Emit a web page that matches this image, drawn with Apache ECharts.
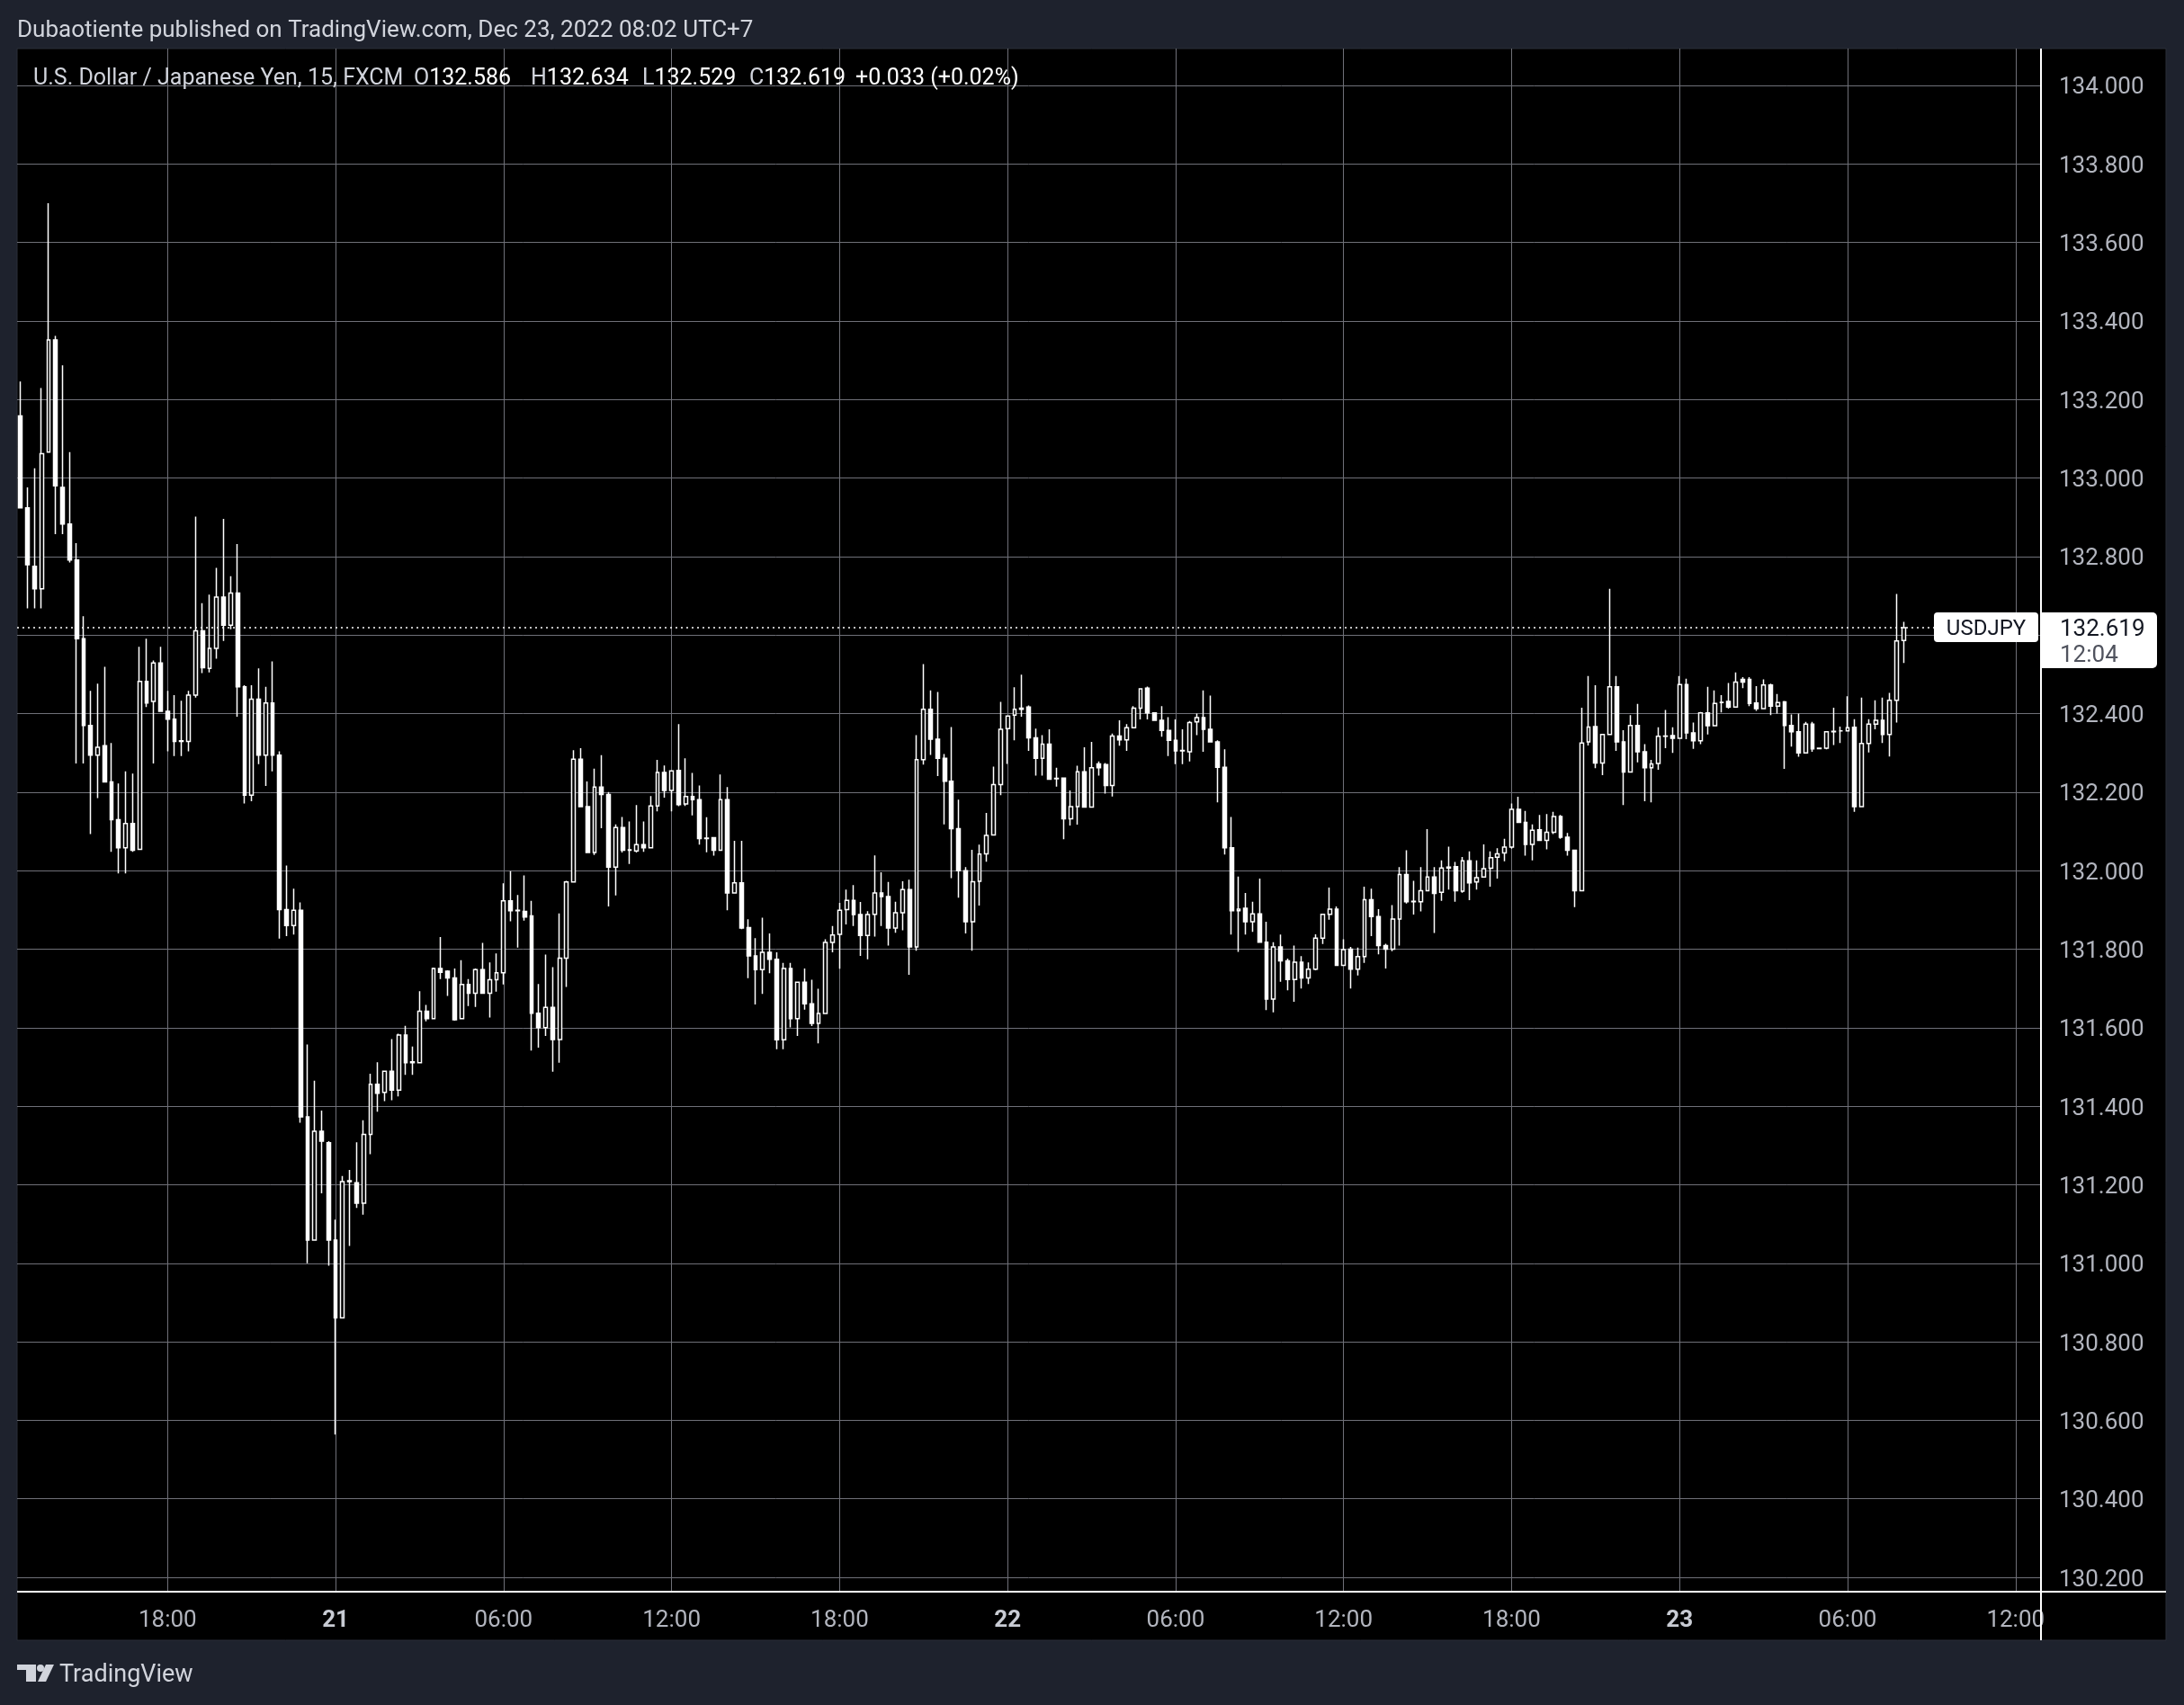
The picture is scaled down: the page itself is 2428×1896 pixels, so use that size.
<!DOCTYPE html>
<html>
<head>
<meta charset="utf-8">
<script src="https://cdn.jsdelivr.net/npm/echarts@6/dist/echarts.min.js"></script>
<style>
html,body{margin:0;padding:0;background:#1e222d;}
#chart{width:2428px;height:1896px;}
</style>
</head>
<body>
<div id="chart"></div>
<script>
// ---- time slots (15-minute bars, USDJPY FXCM, UTC+7) ----
const startTime = Date.UTC(2022, 11, 20, 12, 45); // first bar: Dec 20 12:45
const barMinutes = 15;
const totalSlots = 289;          // visible bar slots incl. empty right margin
const firstTickSlot = 21;        // Dec 20 18:00
const slotsPerTick = 24;         // every 6 hours
const tickLabels = ['18:00', '21', '06:00', '12:00', '18:00', '22', '06:00', '12:00', '18:00', '23', '06:00', '12:00'];

// ---- OHLC values (bars Dec 20 12:45 ... Dec 23 08:00) ----
const openPrices = [
  133.158,132.924,132.775,132.718,133.066,133.352,132.976,132.883,132.791,132.591,
  132.370,132.294,132.318,132.226,132.130,132.058,132.120,132.054,132.482,132.431,
  132.529,132.406,132.386,132.329,132.329,132.447,132.611,132.515,132.566,132.697,
  132.625,132.707,132.468,132.192,132.437,132.294,132.427,132.294,131.901,131.860,
  131.899,131.373,131.059,131.336,131.307,131.059,130.861,131.208,131.205,131.153,
  131.328,131.456,131.435,131.489,131.441,131.581,131.511,131.511,131.642,131.623,
  131.751,131.744,131.727,131.623,131.710,131.688,131.748,131.688,131.722,131.740,
  131.923,131.898,131.896,131.885,131.637,131.600,131.652,131.570,131.777,131.971,
  132.284,132.163,132.046,132.213,132.194,132.009,132.110,132.052,132.050,132.066,
  132.058,132.165,132.250,132.204,132.255,132.170,132.189,132.181,132.082,132.084,
  132.052,132.181,131.943,131.969,131.855,131.783,131.748,131.792,131.774,131.569,
  131.751,131.623,131.716,131.661,131.611,131.636,131.817,131.838,131.901,131.924,
  131.888,131.835,131.889,131.943,131.934,131.854,131.893,131.952,131.806,132.283,
  132.411,132.335,132.286,132.228,132.107,132.000,131.870,131.973,132.043,132.091,
  132.219,132.362,132.396,132.411,132.417,132.338,132.286,132.322,132.234,132.236,
  132.132,132.163,132.252,132.162,132.272,132.270,132.217,132.343,132.333,132.364,
  132.414,132.465,132.402,132.383,132.357,132.332,132.305,132.303,132.379,132.390,
  132.360,132.328,132.263,132.058,131.898,131.904,131.870,131.890,131.818,131.673,
  131.806,131.770,131.723,131.767,131.727,131.749,131.828,131.889,131.902,131.759,
  131.800,131.749,131.781,131.926,131.883,131.809,131.800,131.877,131.990,131.921,
  131.921,131.949,131.984,131.945,132.007,132.010,131.948,132.025,131.971,131.984,
  132.006,132.034,132.045,132.060,132.156,132.123,132.067,132.104,132.077,132.098,
  132.138,132.085,132.052,131.949,132.328,132.367,132.274,132.347,132.468,132.328,
  132.251,132.370,132.303,132.262,132.273,132.342,132.344,132.337,132.474,132.351,
  132.331,132.402,132.369,132.428,132.431,132.417,132.487,132.487,132.427,132.413,
  132.473,132.419,132.430,132.370,132.354,132.300,132.373,132.311,132.312,132.354,
  132.356,132.356,132.365,132.163,132.324,132.373,132.383,132.347,132.434,132.586
];
const highPrices = [
  133.246,132.976,133.025,133.229,133.700,133.362,133.287,133.066,132.834,132.648,
  132.458,132.476,132.519,132.325,132.222,132.253,132.247,132.570,132.591,132.535,
  132.570,132.458,132.447,132.433,132.458,132.902,132.681,132.703,132.771,132.896,
  132.750,132.832,132.472,132.472,132.515,132.468,132.533,132.304,132.013,131.954,
  131.919,131.557,131.465,131.389,131.311,131.111,131.222,131.238,131.308,131.364,
  131.483,131.512,131.491,131.571,131.585,131.605,131.552,131.693,131.658,131.753,
  131.831,131.746,131.751,131.772,131.724,131.751,131.816,131.766,131.789,131.968,
  131.999,131.938,131.988,131.923,131.711,131.786,131.754,131.891,131.974,132.307,
  132.312,132.227,132.260,132.294,132.200,132.118,132.137,132.125,132.167,132.125,
  132.190,132.282,132.268,132.256,132.373,132.286,132.249,132.217,132.136,132.084,
  132.245,132.213,132.076,132.076,131.876,131.828,131.880,131.840,131.792,131.765,
  131.765,131.716,131.751,131.722,131.699,131.825,131.859,131.918,131.952,131.963,
  131.920,131.897,132.039,131.996,131.971,131.921,131.973,131.977,132.345,132.526,
  132.459,132.455,132.297,132.366,132.181,132.009,132.053,132.066,132.147,132.265,
  132.430,132.394,132.467,132.499,132.421,132.362,132.345,132.360,132.262,132.236,
  132.204,132.267,132.314,132.328,132.278,132.274,132.349,132.383,132.373,132.419,
  132.465,132.469,132.402,132.419,132.391,132.385,132.360,132.381,132.400,132.459,
  132.446,132.332,132.309,132.137,131.985,131.943,131.921,131.980,131.870,131.818,
  131.837,131.776,131.809,131.782,131.766,131.838,131.889,131.957,131.909,131.825,
  131.806,131.804,131.959,131.954,131.902,131.814,131.912,132.009,132.052,131.974,
  132.009,132.106,132.009,132.026,132.061,132.022,132.035,132.049,132.026,132.067,
  132.049,132.057,132.081,132.171,132.188,132.152,132.118,132.142,132.144,132.150,
  132.142,132.096,132.052,132.415,132.496,132.472,132.348,132.718,132.496,132.358,
  132.396,132.425,132.322,132.282,132.365,132.409,132.365,132.496,132.489,132.377,
  132.404,132.468,132.459,132.447,132.478,132.505,132.493,132.493,132.470,132.487,
  132.476,132.450,132.432,132.398,132.400,132.379,132.379,132.313,132.354,132.415,
  132.367,132.444,132.386,132.441,132.386,132.434,132.441,132.453,132.705,132.634
];
const lowPrices = [
  132.924,132.668,132.668,132.668,133.066,132.857,132.857,132.785,132.273,132.273,
  132.093,132.185,132.226,132.048,131.993,131.993,132.048,132.054,132.417,132.273,
  132.406,132.304,132.292,132.292,132.304,132.441,132.503,132.505,132.540,132.585,
  132.615,132.392,132.171,132.177,132.271,132.216,132.253,131.827,131.833,131.837,
  131.358,131.000,131.059,131.178,130.994,130.564,130.861,131.044,131.141,131.124,
  131.278,131.386,131.413,131.415,131.425,131.480,131.480,131.511,131.616,131.623,
  131.724,131.681,131.618,131.623,131.655,131.653,131.688,131.626,131.692,131.710,
  131.871,131.804,131.873,131.542,131.549,131.579,131.488,131.511,131.704,131.971,
  132.163,132.046,132.040,132.108,131.909,131.937,132.046,132.017,132.046,132.048,
  132.058,132.151,132.186,132.151,132.164,132.165,132.141,132.066,132.047,132.038,
  132.052,131.899,131.943,131.851,131.726,131.659,131.686,131.739,131.545,131.545,
  131.601,131.579,131.646,131.604,131.560,131.636,131.792,131.750,131.863,131.859,
  131.783,131.774,131.832,131.859,131.809,131.842,131.848,131.735,131.796,132.270,
  132.295,132.241,132.118,131.981,131.931,131.840,131.796,131.911,132.023,132.091,
  132.192,132.272,132.332,132.392,132.305,132.242,132.242,132.233,132.214,132.080,
  132.115,132.117,132.160,132.162,132.242,132.196,132.189,132.318,132.305,132.364,
  132.385,132.385,132.383,132.341,132.292,132.271,132.271,132.278,132.345,132.303,
  132.328,132.174,132.041,131.837,131.793,131.837,131.844,131.818,131.645,131.639,
  131.717,131.695,131.666,131.700,131.711,131.746,131.813,131.875,131.759,131.759,
  131.700,131.733,131.765,131.833,131.787,131.751,131.795,131.809,131.916,131.888,
  131.896,131.949,131.841,131.923,131.952,131.921,131.944,131.925,131.952,131.984,
  131.959,131.980,132.024,132.056,132.123,132.038,132.026,132.077,132.054,132.093,
  132.081,132.038,131.907,131.949,132.319,132.261,132.243,132.347,132.305,132.167,
  132.251,132.276,132.177,132.174,132.257,132.312,132.300,132.337,132.335,132.310,
  132.322,132.347,132.369,132.403,132.413,132.417,132.465,132.419,132.407,132.411,
  132.396,132.400,132.259,132.316,132.290,132.300,132.303,132.310,132.309,132.320,
  132.325,132.356,132.150,132.163,132.301,132.360,132.325,132.291,132.377,132.529
];
const closePrices = [
  132.924,132.779,132.718,133.062,133.352,132.980,132.883,132.791,132.591,132.370,
  132.294,132.314,132.226,132.130,132.058,132.120,132.052,132.482,132.427,132.529,
  132.406,132.386,132.329,132.331,132.447,132.611,132.517,132.566,132.697,132.625,
  132.707,132.468,132.192,132.437,132.294,132.427,132.294,131.901,131.860,131.899,
  131.373,131.059,131.336,131.311,131.059,130.861,131.208,131.210,131.153,131.328,
  131.456,131.433,131.489,131.441,131.581,131.511,131.513,131.642,131.623,131.751,
  131.741,131.727,131.620,131.710,131.688,131.748,131.688,131.722,131.740,131.923,
  131.898,131.899,131.882,131.637,131.600,131.652,131.570,131.777,131.971,132.284,
  132.163,132.046,132.213,132.194,132.009,132.110,132.052,132.053,132.066,132.058,
  132.165,132.250,132.204,132.254,132.168,132.189,132.181,132.082,132.083,132.052,
  132.181,131.943,131.969,131.854,131.783,131.748,131.792,131.774,131.569,131.751,
  131.623,131.716,131.661,131.611,131.636,131.817,131.836,131.899,131.924,131.888,
  131.835,131.888,131.943,131.934,131.854,131.893,131.952,131.806,132.283,132.411,
  132.335,132.286,132.228,132.107,132.000,131.870,131.972,132.042,132.090,132.219,
  132.360,132.394,132.411,132.414,132.338,132.286,132.322,132.233,132.235,132.132,
  132.163,132.252,132.162,132.262,132.262,132.217,132.343,132.333,132.364,132.414,
  132.463,132.402,132.383,132.357,132.332,132.305,132.306,132.377,132.390,132.360,
  132.328,132.263,132.058,131.898,131.902,131.870,131.890,131.818,131.673,131.806,
  131.770,131.723,131.767,131.727,131.749,131.828,131.889,131.902,131.759,131.799,
  131.749,131.781,131.926,131.883,131.809,131.800,131.877,131.990,131.921,131.922,
  131.949,131.984,131.942,132.007,132.009,131.949,132.025,131.969,131.982,132.005,
  132.033,132.043,132.060,132.156,132.123,132.067,132.103,132.077,132.098,132.138,
  132.085,132.052,131.949,132.325,132.366,132.274,132.347,132.468,132.328,132.251,
  132.370,132.303,132.262,132.272,132.342,132.343,132.337,132.474,132.351,132.331,
  132.402,132.369,132.426,132.429,132.417,132.480,132.480,132.426,132.413,132.473,
  132.419,132.428,132.370,132.354,132.300,132.373,132.310,132.312,132.354,132.355,
  132.356,132.364,132.163,132.324,132.373,132.383,132.347,132.434,132.585,132.619
];

const lastPrice = 132.619;
const priceMin = 130.1635;
const priceMax = 134.0939;
const priceStep = 0.2;

const titleText = 'Dubaotiente published on TradingView.com, Dec 23, 2022 08:02 UTC+7';
const symbolName = 'U.S. Dollar / Japanese Yen, 15, FXCM';
const legendItems = [['O', '132.586'], ['H', '132.634'], ['L', '132.529'], ['C', '132.619']];
const changeText = '+0.033 (+0.02%)';
const timerText = '12:04';

// ---- build ----
function pad(n) { return (n < 10 ? '0' : '') + n; }
const categories = [];
for (let k = 0; k < totalSlots; k++) {
  const d = new Date(startTime + k * barMinutes * 60000);
  categories.push((d.getUTCMonth() + 1) + '/' + d.getUTCDate() + ' ' + pad(d.getUTCHours()) + ':' + pad(d.getUTCMinutes()));
}
const candleData = openPrices.map((o, k) => [o, closePrices[k], lowPrices[k], highPrices[k]]);
const isTick = (idx) => idx >= firstTickSlot && (idx - firstTickSlot) % slotsPerTick === 0;

const FONT = 'Roboto, "Noto Sans", sans-serif';
const gridColor = '#6f7078';
const axisText = '#b2b5be';

const legendX = [460, 590, 714, 833];
const LF = '25px ' + FONT;
const graphicEls = [
  { type: 'rect', z: -100, silent: true, shape: { x: 19, y: 54, width: 2389, height: 1770 }, style: { fill: '#000000', stroke: '#2a2e39', lineWidth: 1 } },
  { type: 'line', z: 50, silent: true, shape: { x1: 19, y1: 1770, x2: 2408, y2: 1770 }, style: { stroke: '#ffffff', lineWidth: 2 } },
  { type: 'line', z: 50, silent: true, shape: { x1: 2269, y1: 54, x2: 2269, y2: 1824 }, style: { stroke: '#ffffff', lineWidth: 2 } },
  { type: 'text', z: 50, x: 19, y: 34, style: { text: titleText, fill: '#d1d4dc', font: '26px ' + FONT, verticalAlign: 'middle' } },
  { type: 'text', z: 50, x: 37, y: 88, style: { text: symbolName, fill: '#d1d4dc', font: LF, verticalAlign: 'middle' } },
  { type: 'text', z: 50, x: 951, y: 88, style: { text: changeText, fill: '#ffffff', font: LF, verticalAlign: 'middle' } },
  { type: 'rect', z: 60, shape: { x: 2150, y: 681, width: 116, height: 33, r: 4 }, style: { fill: '#ffffff' } },
  { type: 'text', z: 61, x: 2208, y: 700, style: { text: 'USDJPY', fill: '#131722', font: '24px ' + FONT, align: 'center', verticalAlign: 'middle' } },
  { type: 'rect', z: 60, shape: { x: 2270, y: 681, width: 128, height: 62, r: [0, 5, 5, 0] }, style: { fill: '#ffffff' } },
  { type: 'text', z: 61, x: 2290, y: 700, style: { text: lastPrice.toFixed(3), fill: '#131722', font: '26px ' + FONT, verticalAlign: 'middle' } },
  { type: 'text', z: 61, x: 2290, y: 729, style: { text: timerText, fill: '#50535e', font: '26px ' + FONT, verticalAlign: 'middle' } },
  // TradingView logo
  { type: 'rect', z: 50, shape: { x: 19, y: 1851, width: 21, height: 6 }, style: { fill: '#d1d4dc' } },
  { type: 'rect', z: 50, shape: { x: 29, y: 1851, width: 11, height: 19 }, style: { fill: '#d1d4dc' } },
  { type: 'circle', z: 50, shape: { cx: 45, cy: 1855, r: 4 }, style: { fill: '#d1d4dc' } },
  { type: 'polygon', z: 50, shape: { points: [[51, 1851], [60, 1851], [51, 1870], [42, 1870]] }, style: { fill: '#d1d4dc' } },
  { type: 'text', z: 50, x: 66, y: 1863, style: { text: 'TradingView', fill: '#d1d4dc', font: '27px ' + FONT, verticalAlign: 'middle' } }
];
legendItems.forEach((it, k) => {
  graphicEls.push({ type: 'text', z: 50, x: legendX[k], y: 88, style: { text: '{l|' + it[0] + '}{v|' + it[1] + '}', font: LF, verticalAlign: 'middle', rich: { l: { fill: '#d1d4dc', font: LF }, v: { fill: '#ffffff', font: LF } } } });
});

const chart = echarts.init(document.getElementById('chart'), null, { renderer: 'canvas' });
chart.setOption({
  animation: false,
  backgroundColor: '#1e222d',
  grid: { left: 19, right: 160, top: 54, bottom: 126, containLabel: false },
  xAxis: {
    type: 'category',
    data: categories,
    boundaryGap: true,
    axisLine: { show: false },
    axisTick: { show: false },
    axisLabel: {
      interval: (idx) => isTick(idx),
      margin: 19,
      color: axisText,
      fontSize: 26,
      fontFamily: FONT,
      formatter: (val, idx) => {
        const t = tickLabels[(idx - firstTickSlot) / slotsPerTick] || '';
        return t.indexOf(':') < 0 ? '{d|' + t + '}' : t;
      },
      rich: { d: { fontWeight: 'bold', fontSize: 26, fontFamily: FONT, color: '#c8cbd3' } }
    },
    splitLine: {
      show: true,
      interval: (idx) => isTick(idx),
      alignWithLabel: true,
      lineStyle: { color: gridColor, width: 1 }
    }
  },
  yAxis: {
    type: 'value',
    position: 'right',
    min: priceMin,
    max: priceMax,
    splitNumber: 20,
    minInterval: priceStep,
    maxInterval: priceStep,
    axisLine: { show: false },
    axisTick: { show: false },
    axisLabel: {
      margin: 21,
      color: axisText,
      fontSize: 26,
      fontFamily: FONT,
      showMinLabel: false,
      showMaxLabel: false,
      formatter: (v) => '{p|' + v.toFixed(3) + '}',
      rich: { p: { fontSize: 26, fontFamily: FONT, color: axisText, padding: [6, 0, 0, 0] } }
    },
    splitLine: { show: true, showMinLine: false, showMaxLine: false, lineStyle: { color: gridColor, width: 1 } }
  },
  series: [{
    type: 'candlestick',
    data: candleData,
    barWidth: 4.3,
    itemStyle: {
      color: '#000000',
      color0: '#ffffff',
      borderColor: '#ffffff',
      borderColor0: '#ffffff',
      borderColorDoji: '#ffffff',
      borderWidth: 1.5
    },
    markLine: {
      silent: true,
      symbol: 'none',
      label: { show: false },
      lineStyle: { color: '#ffffff', type: [2, 4], width: 1.5 },
      data: [{ yAxis: lastPrice }]
    }
  }],
  graphic: { elements: graphicEls }
});
</script>
</body>
</html>
